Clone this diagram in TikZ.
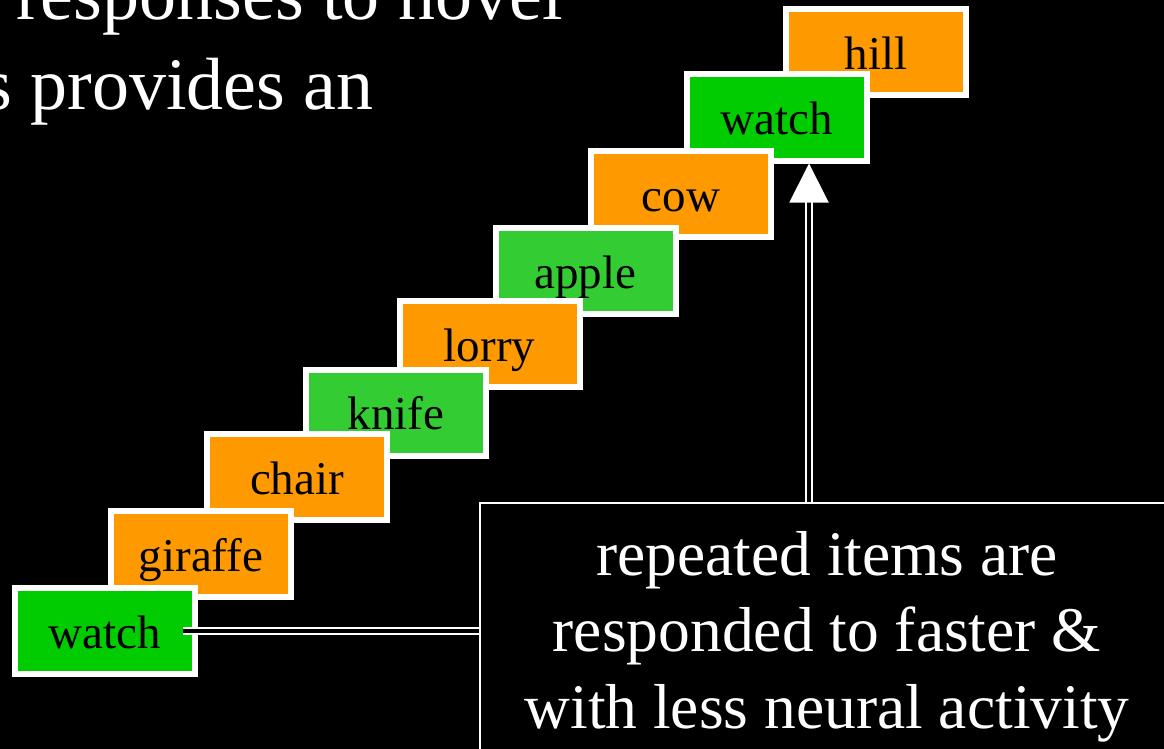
\documentclass[tikz,border=0pt]{standalone}
\usepackage{fontspec}
\setmainfont{Liberation Serif}
\usetikzlibrary{arrows.meta}
\definecolor{itemorange}{HTML}{FF9900}
\definecolor{itemgreen}{HTML}{00CC00}
\definecolor{itemgreenb}{HTML}{33CC33}
\tikzset{
  item/.style={rectangle, draw=white, line width=6pt, minimum width=180pt,
    minimum height=86pt, text height=34pt, text depth=0pt, inner sep=0pt,
    text=black, font=\fontsize{47}{56}\selectfont},
  orangeitem/.style={item, fill=itemorange},
  greenitem/.style={item, fill=itemgreen},
  greenitemb/.style={item, fill=itemgreenb},
  conn/.style={draw=white, line width=2pt, double=black, double distance=4pt},
  headtext/.style={text=white, inner sep=0pt, font=\fontsize{74}{90}\selectfont},
  calloutbox/.style={rectangle, draw=white, line width=2pt, fill=black,
    anchor=north west, minimum width=694pt, minimum height=267pt,
    align=center, text=white, inner sep=0pt,
    font=\fontsize{63.5}{76.5}\selectfont},
}
\begin{document}
\begin{tikzpicture}[x=1pt,y=-1pt]
\useasboundingbox (0,0) rectangle (1164,749);
\fill[black] (0,0) rectangle (1164,749);
\clip (0,0) rectangle (1164,749);
\node[headtext, anchor=base west] (head1) at (16,20) {responses to novel};
\node[headtext, anchor=base west] (head2) at (-17,110) {s provides an};
\node[orangeitem] (hill) at (876,52.5) {hill};
\node[greenitem] (watchb) at (777,117.5) {watch};
\node[orangeitem] (cow) at (681,194) {cow};
\node[greenitemb] (apple) at (585.5,271) {apple};
\node[orangeitem] (lorry) at (489.5,344) {lorry};
\node[greenitemb] (knife) at (396,412.5) {knife};
\node[orangeitem] (chair) at (297,477) {chair};
\node[orangeitem] (giraffe) at (201,554) {giraffe};
\node[greenitem] (watcha) at (105,631) {watch};
\node[calloutbox] (callout) at (479,502) {repeated items are\\responded to faster \&\\with less neural activity};
\coordinate (arrowtip) at ([xshift=32pt]watchb.south);
\draw[conn, -{Triangle[length=39pt,width=39pt]}] (callout.north west -| arrowtip) -- (arrowtip);
\draw[conn] ([xshift=-15pt]watcha.east) -- (watcha.east -| callout.west);
\end{tikzpicture}
\end{document}
